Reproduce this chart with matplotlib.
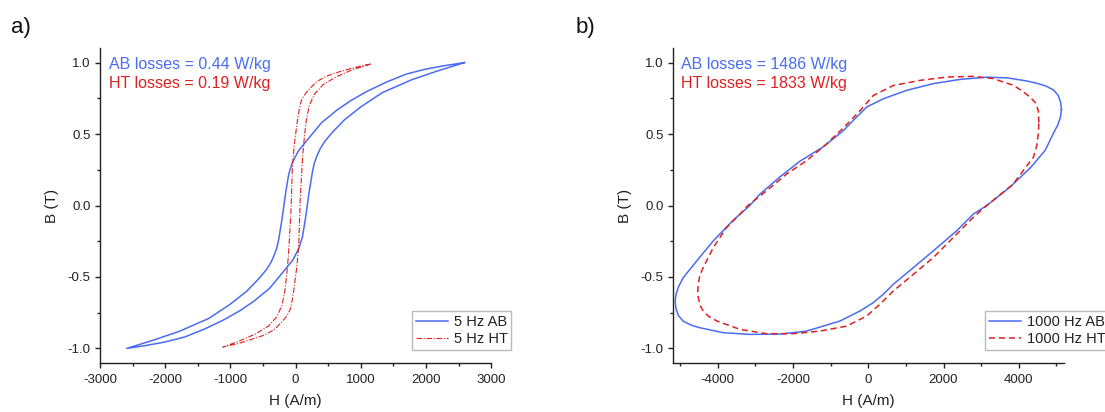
import matplotlib
matplotlib.use('Agg')
import matplotlib.pyplot as plt
from matplotlib.ticker import MultipleLocator

plt.rcParams['font.family'] = ['Liberation Sans', 'DejaVu Sans']
plt.rcParams['axes.unicode_minus'] = False

BLUE = '#4a6cf2'
RED = '#dd2020'

# ------------------------------------------------------------
# a) 5 Hz loops, H in A/m, B in T
# ------------------------------------------------------------
# as-built (AB): descending branch, then ascending branch
ab5_desc_h = [2590, 2300, 2000, 1700, 1400, 1100, 850, 640, 400, 200, 40, -50, -105,
              -150, -190, -210, -235, -260, -290, -330, -380, -450, -560, -750, -1000,
              -1330, -1780, -2200, -2590]
ab5_desc_b = [1.00, 0.98, 0.955, 0.92, 0.865, 0.80, 0.735, 0.67, 0.58, 0.47, 0.38, 0.30,
              0.22, 0.095, -0.035, -0.10, -0.17, -0.24, -0.30, -0.35, -0.40, -0.45,
              -0.51, -0.60, -0.69, -0.79, -0.88, -0.945, -1.00]
ab5_asc_h = [-2590, -2300, -2000, -1700, -1400, -1100, -850, -640, -400, -200, -40, 50,
             105, 150, 190, 210, 235, 260, 290, 330, 380, 450, 560, 750, 1000, 1330,
             1780, 2200, 2590]
ab5_asc_b = [-1.00, -0.98, -0.955, -0.92, -0.865, -0.80, -0.735, -0.67, -0.58, -0.47,
             -0.38, -0.30, -0.22, -0.095, 0.035, 0.10, 0.17, 0.24, 0.30, 0.35, 0.40,
             0.45, 0.51, 0.60, 0.69, 0.79, 0.88, 0.945, 1.00]

# heat-treated (HT)
ht5_desc_h = [1150, 900, 700, 500, 330, 200, 130, 85, 55, 30, 10, -10, -25, -40, -50,
              -62, -72, -90, -110, -135, -165, -210, -290, -420, -620, -870, -1115]
ht5_desc_b = [0.99, 0.965, 0.94, 0.91, 0.87, 0.81, 0.77, 0.73, 0.67, 0.60, 0.53, 0.46,
              0.40, 0.32, 0.25, 0.08, -0.05, -0.20, -0.35, -0.48, -0.60, -0.70, -0.78,
              -0.845, -0.90, -0.95, -0.99]
ht5_asc_h = [-1115, -870, -700, -500, -330, -200, -130, -85, -55, -30, -10, 10, 25, 40,
             50, 62, 72, 90, 110, 135, 165, 210, 290, 420, 620, 870, 1150]
ht5_asc_b = [-0.99, -0.965, -0.94, -0.91, -0.87, -0.81, -0.77, -0.73, -0.67, -0.60,
             -0.53, -0.46, -0.40, -0.32, -0.25, -0.08, 0.05, 0.20, 0.35, 0.48, 0.60,
             0.70, 0.78, 0.845, 0.90, 0.95, 0.99]

# ------------------------------------------------------------
# b) 1000 Hz loops (closed, counter-clockwise from the right tip)
# ------------------------------------------------------------
ab1k_h = [5135, 5115, 5050, 4920, 4700, 4470, 4200, 3700, 3150, 2450, 1730, 1020, 400,
          -40, -400, -660, -1200, -1820, -2350, -2880, -3150, -3600, -4120, -4560,
          -4920, -5040, -5110, -5135, -5115, -5050, -4920, -4700, -4470, -3860, -3150,
          -2350, -1640, -750, -220, 130, 400, 665, 1200, 1730, 2350, 2790, 3150, 3760,
          4320, 4700, 4920, 5040, 5110, 5135]
ab1k_b = [0.67, 0.72, 0.77, 0.81, 0.838, 0.856, 0.872, 0.893, 0.898, 0.883, 0.853,
          0.806, 0.747, 0.69, 0.595, 0.525, 0.41, 0.31, 0.20, 0.08, 0.0, -0.105,
          -0.247, -0.387, -0.505, -0.565, -0.62, -0.67, -0.72, -0.77, -0.81, -0.838,
          -0.856, -0.89, -0.902, -0.90, -0.879, -0.808, -0.738, -0.68, -0.621, -0.551,
          -0.434, -0.317, -0.177, -0.06, 0.0, 0.127, 0.267, 0.385, 0.505, 0.565, 0.62,
          0.67]

ht1k_h = [4535, 4520, 4440, 4300, 4100, 3860, 3320, 2790, 2090, 1380, 665, 133, -250,
          -600, -1105, -1640, -2170, -2700, -3200, -3410, -3770, -4120, -4390, -4480,
          -4520, -4535, -4520, -4470, -4390, -4250, -4030, -3410, -2700, -2000, -1290,
          -575, -40, 310, 665, 1200, 1730, 2260, 2790, 3150, 3850, 4390, 4480, 4520,
          4535]
ht1k_b = [0.58, 0.665, 0.72, 0.759, 0.80, 0.841, 0.888, 0.904, 0.899, 0.876, 0.84,
          0.77, 0.655, 0.56, 0.432, 0.314, 0.221, 0.104, 0.0, -0.06, -0.154, -0.294,
          -0.434, -0.49, -0.551, -0.60, -0.645, -0.70, -0.738, -0.775, -0.808, -0.867,
          -0.897, -0.897, -0.879, -0.844, -0.773, -0.691, -0.598, -0.481, -0.364,
          -0.224, -0.083, 0.0, 0.15, 0.338, 0.42, 0.502, 0.58]

ab_losses = ['0.44', '1486']
ht_losses = ['0.19', '1833']

fig = plt.figure(figsize=(11.05, 4.12), dpi=100)
ax_a = fig.add_axes([0.0905, 0.1197, 0.354, 0.763])
ax_b = fig.add_axes([0.6088, 0.1197, 0.354, 0.763])


def style_axes(ax, xlim, xmajor, xminor):
    ax.set_xlim(*xlim)
    ax.set_ylim(-1.1, 1.1)
    ax.xaxis.set_major_locator(MultipleLocator(xmajor))
    ax.xaxis.set_minor_locator(MultipleLocator(xminor))
    ax.yaxis.set_major_locator(MultipleLocator(0.5))
    ax.yaxis.set_minor_locator(MultipleLocator(0.25))
    ax.yaxis.set_major_formatter(plt.FormatStrFormatter('%.1f'))
    for side in ('top', 'right'):
        ax.spines[side].set_visible(False)
    for side in ('left', 'bottom'):
        ax.spines[side].set_linewidth(1.0)
        ax.spines[side].set_color('#222222')
    ax.tick_params(which='both', direction='out', width=1.0, color='#222222',
                   labelsize=9.5, labelcolor='#222222')
    ax.tick_params(which='major', length=3.7)
    ax.tick_params(which='minor', length=2.0)
    ax.tick_params(axis='x', pad=4.5)
    ax.tick_params(axis='y', pad=3)
    ax.set_xlabel('H (A/m)', fontsize=11, color='#222222', labelpad=6)
    ax.set_ylabel('B (T)', fontsize=11, color='#222222', labelpad=6)


# panel a
ax_a.plot(ab5_desc_h + ab5_asc_h, ab5_desc_b + ab5_asc_b, color=BLUE, lw=1.1,
          label='5 Hz AB')
ax_a.plot(ht5_desc_h + ht5_asc_h, ht5_desc_b + ht5_asc_b, color=RED, lw=0.8,
          ls=(0, (5, 1.5, 1, 1.5)), label='5 Hz HT')
style_axes(ax_a, (-3000, 3000), 1000, 500)

# panel b
ax_b.plot(ab1k_h, ab1k_b, color=BLUE, lw=1.1, label='1000 Hz AB')
ax_b.plot(ht1k_h, ht1k_b, color=RED, lw=1.1, ls=(0, (4, 2.5)), label='1000 Hz HT')
style_axes(ax_b, (-5200, 5200), 2000, 1000)

for ax, ab, ht in ((ax_a, ab_losses[0], ht_losses[0]), (ax_b, ab_losses[1], ht_losses[1])):
    ax.text(0.022, 0.950, f'AB losses = {ab} W/kg', transform=ax.transAxes,
            color=BLUE, fontsize=11.5, va='center', ha='left')
    ax.text(0.022, 0.889, f'HT losses = {ht} W/kg', transform=ax.transAxes,
            color=RED, fontsize=11.5, va='center', ha='left')

legend_style = dict(loc='lower left', bbox_transform=fig.transFigure, fontsize=10.5,
                    frameon=True, fancybox=False, edgecolor='#aaaaaa',
                    handlelength=2.2, handletextpad=0.4, labelspacing=0.25,
                    borderpad=0.25, borderaxespad=0)
leg_a = ax_a.legend(bbox_to_anchor=(0.3729, 0.1505), **legend_style)
leg_b = ax_b.legend(bbox_to_anchor=(0.8914, 0.1505), **legend_style)
for leg in (leg_a, leg_b):
    leg.get_frame().set_linewidth(1.0)
    for t in leg.get_texts():
        t.set_color('#222222')

fig.text(0.010, 0.934, 'a)', fontsize=16, va='center', ha='left', color='#111111')
fig.text(0.521, 0.934, 'b)', fontsize=16, va='center', ha='left', color='#111111')

fig.savefig('out.png', dpi=100)
